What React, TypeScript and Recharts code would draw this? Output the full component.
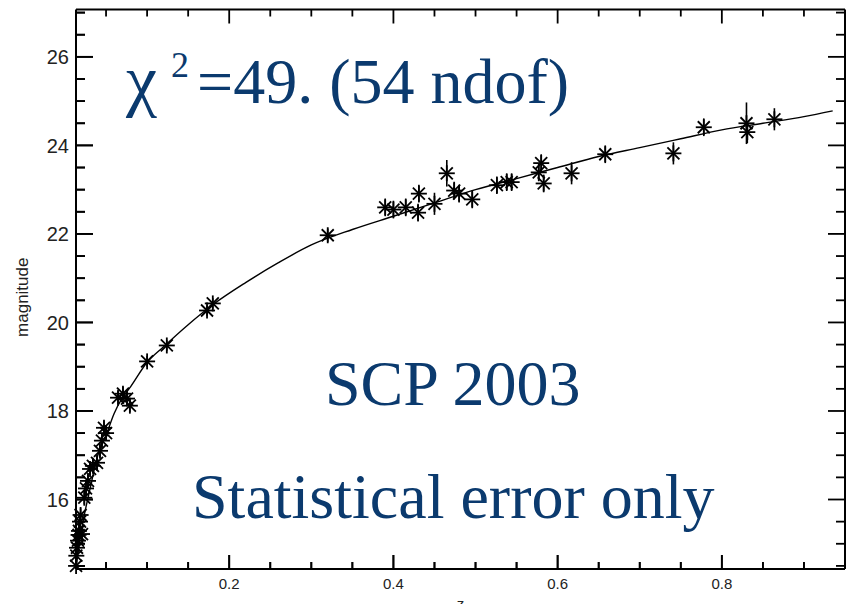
import React from 'react'
import {
  ComposedChart,
  XAxis,
  YAxis,
  Line,
  Scatter,
  ErrorBar,
  Label,
  ReferenceLine,
  ReferenceDot,
} from 'recharts'

// supernova redshift and magnitude
const snZ = [
  0.0135, 0.0138, 0.0146, 0.0158, 0.0165, 0.017, 0.0183, 0.019, 0.0207, 0.0235,
  0.0256, 0.028, 0.0305, 0.034, 0.039, 0.0426, 0.045, 0.0475, 0.05, 0.0646,
  0.0706, 0.0755, 0.079, 0.1, 0.124, 0.173, 0.18, 0.32, 0.39, 0.4,
  0.415, 0.431, 0.43, 0.45, 0.465, 0.474, 0.48, 0.496, 0.526, 0.538,
  0.544, 0.58, 0.577, 0.583, 0.617, 0.658, 0.741, 0.778, 0.83, 0.831, 0.864,
]
const snMag = [
  14.5, 14.73, 14.91, 15.07, 15.2, 15.29, 15.5, 15.65, 15.22, 16.04,
  16.25, 16.42, 16.69, 16.76, 16.83, 17.1, 17.33, 17.62, 17.5, 18.3,
  18.39, 18.28, 18.12, 19.12, 19.48, 20.27, 20.43, 21.97, 22.6, 22.55,
  22.6, 22.91, 22.48, 22.68, 23.37, 22.98, 22.91, 22.78, 23.1, 23.17,
  23.17, 23.6, 23.39, 23.14, 23.37, 23.8, 23.82, 24.41, 24.5, 24.3, 24.59,
]
const snErr = [
  0.07, 0.15, 0.15, 0.15, 0.15, 0.15, 0.15, 0.15, 0.15, 0.15,
  0.15, 0.15, 0.15, 0.15, 0.15, 0.15, 0.15, 0.15, 0.15, 0.15,
  0.15, 0.15, 0.15, 0.12, 0.12, 0.12, 0.12, 0.15, 0.2, 0.2,
  0.2, 0.2, 0.2, 0.25, 0.3, 0.2, 0.2, 0.2, 0.2, 0.2,
  0.2, 0.2, 0.2, 0.2, 0.25, 0.2, 0.25, 0.2, 0.47, 0.25, 0.25,
]

// best fit curve
const fitZ = [
  0.0135, 0.02, 0.03, 0.04, 0.05, 0.06, 0.07, 0.08, 0.1, 0.12, 0.15, 0.18,
  0.22, 0.26, 0.3, 0.35, 0.4, 0.45, 0.5, 0.55, 0.6, 0.65, 0.7, 0.75, 0.8,
  0.85, 0.9, 0.935,
]
const fitMag = [
  14.47, 15.3, 16.2, 17.0, 17.45, 17.95, 18.3, 18.55, 19.1, 19.45, 19.95, 20.4,
  20.9, 21.35, 21.75, 22.1, 22.4, 22.7, 23.0, 23.25, 23.5, 23.75, 23.95, 24.15, 24.35,
  24.5, 24.65, 24.78,
]

const xTicks = [
  0.05, 0.1, 0.15, 0.2, 0.25, 0.3, 0.35, 0.4, 0.45, 0.5, 0.55, 0.6, 0.65, 0.7,
  0.75, 0.8, 0.85, 0.9,
]
const xLabeled = [0.2, 0.4, 0.6, 0.8]
const yTicks = [
  14.5, 15, 15.5, 16, 16.5, 17, 17.5, 18, 18.5, 19, 19.5, 20, 20.5, 21, 21.5,
  22, 22.5, 23, 23.5, 24, 24.5, 25, 25.5, 26, 26.5, 27,
]
const yLabeled = [16, 18, 20, 22, 24, 26]

const X_DOMAIN = [0.0134, 0.95]
const Y_DOMAIN = [14.43, 27.07]

const points = snZ.map((z, i) => ({ z, m: snMag[i], err: snErr[i] }))
const fit = fitZ.map((z, i) => ({ z, m: fitMag[i] }))
// inward marks along the bottom and left edges, placed through the chart's scales
const bottomMarks = xTicks.map((z) => ({ z, m: Y_DOMAIN[0], major: xLabeled.includes(z) }))
const leftMarks = yTicks.map((m) => ({ z: X_DOMAIN[0], m, major: yLabeled.includes(m) }))

const WIDTH = 846
const HEIGHT = 604
const MARGIN = { top: 9.5, right: 1, bottom: 0, left: 0 }
const X_AXIS_H = 35
const Y_AXIS_W = 76
const PLOT_TOP = MARGIN.top
const PLOT_BOTTOM = HEIGHT - MARGIN.bottom - X_AXIS_H
const PLOT_LEFT = MARGIN.left + Y_AXIS_W
const PLOT_RIGHT = WIDTH - MARGIN.right
const TICK_FONT = 'Liberation Sans, Arial, sans-serif'
const SERIF = 'Liberation Serif, Times New Roman, serif'
const BLUE = '#0b3a6e'

// axis ticks: label plus the inward mark on the opposite (top / right) side
const bottomTick = (p: any) => {
  const major = xLabeled.includes(p.payload.value)
  return (
    <g>
      <line x1={p.x} x2={p.x} y1={PLOT_TOP} y2={PLOT_TOP + (major ? 14 : 7)} stroke="#000" strokeWidth={1.8} />
      {major && (
        <text x={p.x} y={PLOT_BOTTOM + 20} textAnchor="middle" fontSize={15} fontFamily={TICK_FONT} fill="#222">
          {p.payload.value.toFixed(1)}
        </text>
      )}
    </g>
  )
}

const leftTick = (p: any) => {
  const major = yLabeled.includes(p.payload.value)
  return (
    <g>
      <line x1={PLOT_RIGHT} x2={PLOT_RIGHT - (major ? 17 : 9)} y1={p.y} y2={p.y} stroke="#000" strokeWidth={1.8} />
      {major && (
        <text x={PLOT_LEFT - 7} y={p.y} dy="0.36em" textAnchor="end" fontSize={20} fontFamily={TICK_FONT} fill="#222">
          {p.payload.value}
        </text>
      )}
    </g>
  )
}

const BottomMark = ({ cx, cy, payload }: any) => (
  <line x1={cx} x2={cx} y1={cy} y2={cy - (payload.major ? 14 : 7)} stroke="#000" strokeWidth={1.8} />
)

const LeftMark = ({ cx, cy, payload }: any) => (
  <line x1={cx} x2={cx + (payload.major ? 17 : 9)} y1={cy} y2={cy} stroke="#000" strokeWidth={1.8} />
)

const Asterisk = ({ cx, cy }: any) => {
  const r = 8
  const d = 6
  return (
    <g stroke="#000" strokeWidth={1.8}>
      <line x1={cx - r} x2={cx + r} y1={cy} y2={cy} />
      <line x1={cx} x2={cx} y1={cy - r} y2={cy + r} />
      <line x1={cx - d} x2={cx + d} y1={cy - d} y2={cy + d} />
      <line x1={cx - d} x2={cx + d} y1={cy + d} y2={cy - d} />
    </g>
  )
}

const MagnitudeLabel = ({ viewBox }: any) => {
  const cx = viewBox.x + 22
  const cy = viewBox.y + viewBox.height / 2 + 8
  return (
    <text
      x={cx}
      y={cy}
      transform={`rotate(-90 ${cx} ${cy})`}
      textAnchor="middle"
      dy="0.35em"
      fontSize={17}
      fontFamily={TICK_FONT}
      fill="#222"
    >
      magnitude
    </text>
  )
}

const ZLabel = ({ viewBox }: any) => (
  <text x={viewBox.x + viewBox.width / 2} y={609} textAnchor="middle" fontSize={15} fontFamily={TICK_FONT} fill="#222">
    z
  </text>
)

export default function App() {
  return (
    <div style={WrapperStyle}>
      <svg width={WIDTH} height={HEIGHT} style={UnderlayStyle}>
        <text x={126} y={103} fill={BLUE} fontFamily={SERIF} fontSize={64}>
          <tspan fontSize={70}>χ</tspan>
          <tspan dx={14} dy={-26} fontSize={36}>2</tspan>
          <tspan dx={8} dy={26} fontSize={64}>=49. (54 ndof)</tspan>
        </text>
        <text x={325} y={405} fill={BLUE} fontFamily={SERIF} fontSize={64}>
          SCP 2003
        </text>
        <text x={192} y={518} fill={BLUE} fontFamily={SERIF} fontSize={64}>
          Statistical error only
        </text>
      </svg>
      <ComposedChart width={WIDTH} height={HEIGHT} margin={MARGIN}>
        <XAxis
          type="number"
          dataKey="z"
          domain={X_DOMAIN}
          ticks={xTicks}
          interval={0}
          height={X_AXIS_H}
          tickSize={0}
          tickMargin={0}
          tickLine={false}
          tick={bottomTick}
          axisLine={{ stroke: '#000', strokeWidth: 2 }}
        >
          <Label content={<ZLabel />} />
        </XAxis>
        <YAxis
          type="number"
          dataKey="m"
          domain={Y_DOMAIN}
          ticks={yTicks}
          interval={0}
          width={Y_AXIS_W}
          tickSize={0}
          tickMargin={0}
          tickLine={false}
          tick={leftTick}
          axisLine={{ stroke: '#000', strokeWidth: 2 }}
        >
          <Label content={<MagnitudeLabel />} />
        </YAxis>
        <ReferenceLine y={Y_DOMAIN[1]} stroke="#000" strokeWidth={2} />
        <ReferenceLine x={X_DOMAIN[1]} stroke="#000" strokeWidth={2} />
        <Line
          data={fit}
          dataKey="m"
          type="monotone"
          stroke="#000"
          strokeWidth={1.4}
          dot={false}
          isAnimationActive={false}
        />
        <Scatter data={points} dataKey="m" shape={<Asterisk />} isAnimationActive={false}>
          <ErrorBar dataKey="err" direction="y" width={0} stroke="#000" strokeWidth={1.6} />
        </Scatter>
        <Scatter data={bottomMarks} dataKey="m" shape={<BottomMark />} isAnimationActive={false} />
        <Scatter data={leftMarks} dataKey="m" shape={<LeftMark />} isAnimationActive={false} />
        {bottomMarks.map((d) => (
          <ReferenceDot
            key={`b${d.z}`}
            x={d.z}
            y={d.m}
            ifOverflow="visible"
            shape={(p: any) => <BottomMark cx={p.cx} cy={p.cy} payload={d} />}
          />
        ))}
        {leftMarks.map((d) => (
          <ReferenceDot
            key={`l${d.m}`}
            x={d.z}
            y={d.m}
            ifOverflow="visible"
            shape={(p: any) => <LeftMark cx={p.cx} cy={p.cy} payload={d} />}
          />
        ))}
      </ComposedChart>
    </div>
  )
}

const WrapperStyle: React.CSSProperties = {
  position: 'absolute',
  left: 0,
  top: 0,
  width: WIDTH,
  height: HEIGHT,
  background: '#fff',
}

const UnderlayStyle: React.CSSProperties = {
  position: 'absolute',
  left: 0,
  top: 0,
}
